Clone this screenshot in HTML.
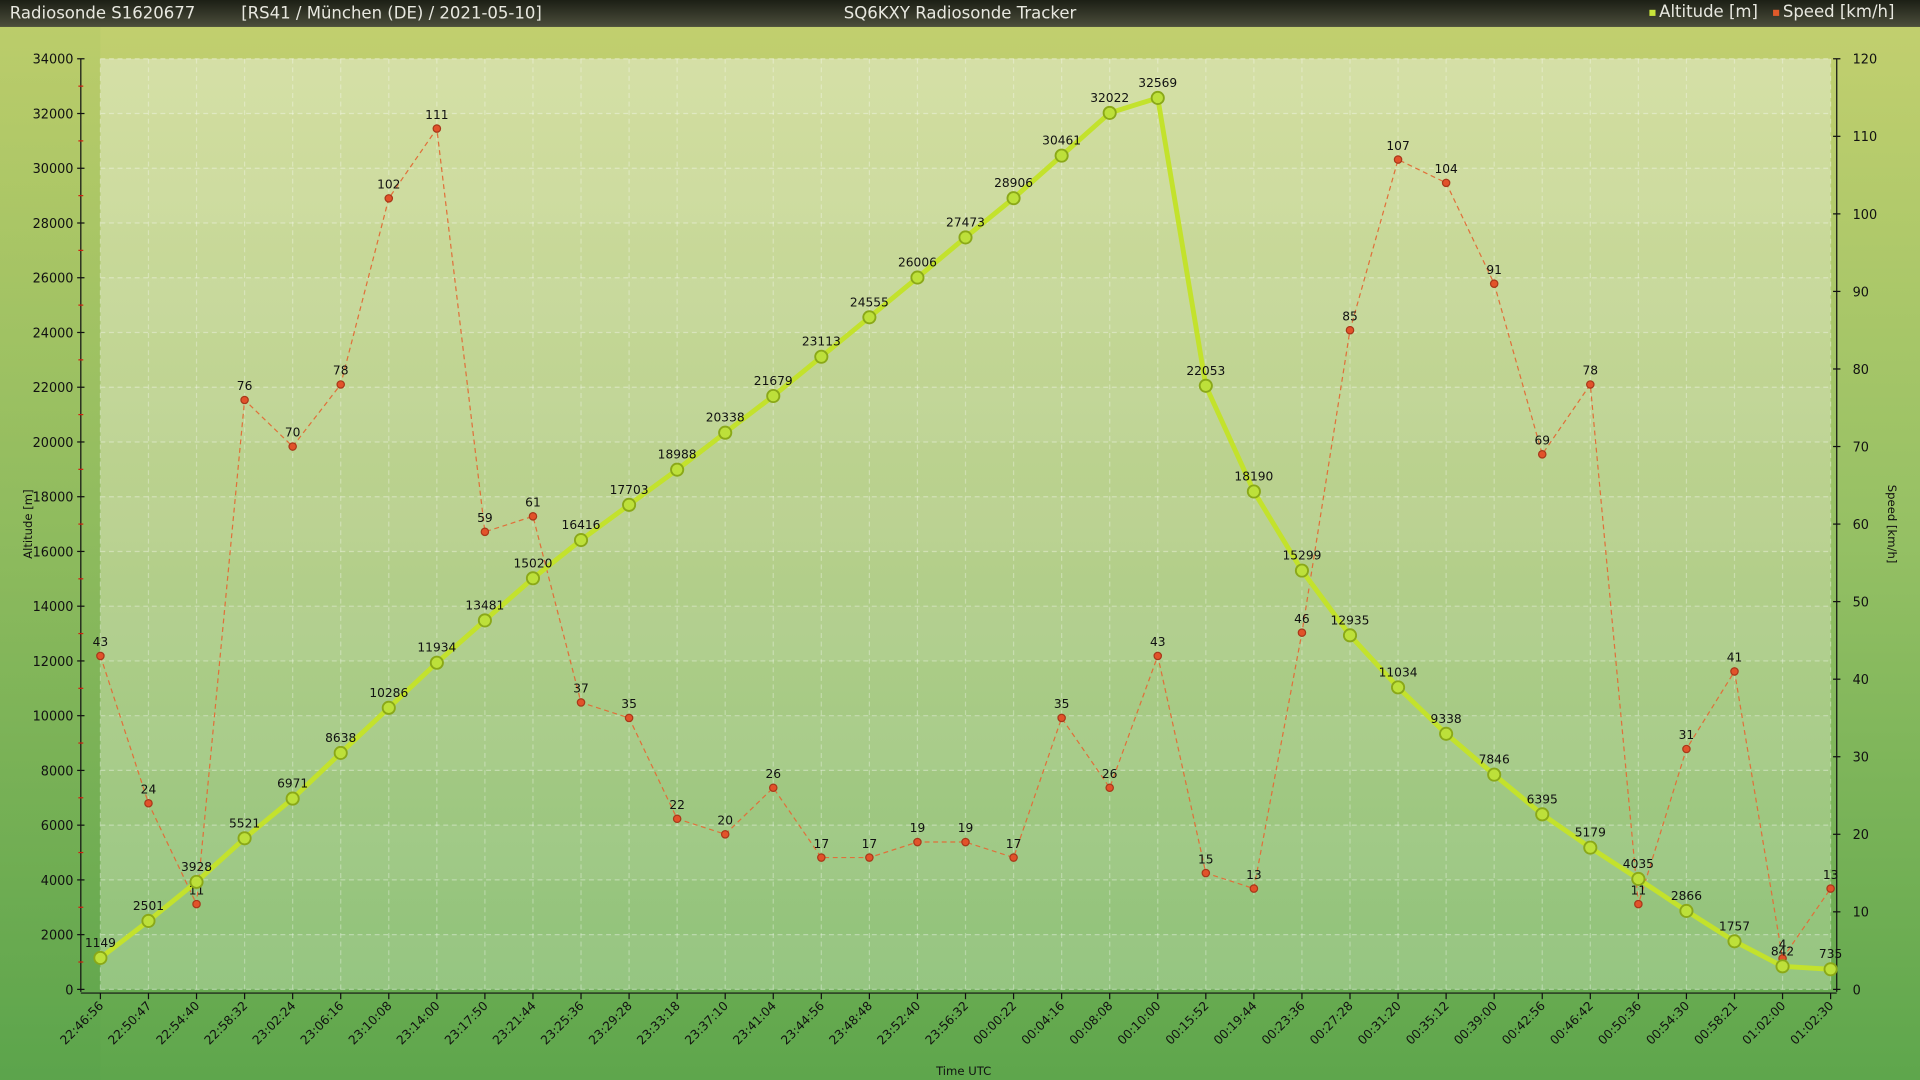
<!DOCTYPE html>
<html><head><meta charset="utf-8"><style>
html,body{margin:0;padding:0;width:1920px;height:1080px;overflow:hidden;background:#8fbf6a}
svg{display:block}
text{font-family:"DejaVu Sans","Liberation Sans",sans-serif}
</style></head><body>
<svg id="chart" width="1920" height="1080" viewBox="0 0 1568 882" preserveAspectRatio="none" xmlns="http://www.w3.org/2000/svg">
<defs>
<linearGradient id="bg" x1="0" y1="0" x2="0" y2="1"><stop offset="0" stop-color="#c4d06f"/><stop offset="0.5" stop-color="#95c064"/><stop offset="1" stop-color="#5ea64c"/></linearGradient>
<linearGradient id="side" x1="0" y1="0" x2="0" y2="1"><stop offset="0" stop-color="#b7cb68"/><stop offset="1" stop-color="#5aa34b"/></linearGradient>
<linearGradient id="plot" x1="0" y1="0" x2="0" y2="1"><stop offset="0" stop-color="#d3dea1"/><stop offset="0.5" stop-color="#b7d08c"/><stop offset="1" stop-color="#8fc27a"/></linearGradient>
<linearGradient id="tb" x1="0" y1="0" x2="0" y2="1"><stop offset="0" stop-color="#1c1f15"/><stop offset="1" stop-color="#4c4e3c"/></linearGradient>
</defs>
<rect x="0" y="0" width="1568" height="882" fill="url(#bg)"/>
<rect x="0" y="22" width="82" height="860" fill="url(#side)" opacity="0.6"/>
<rect x="82" y="48" width="1413" height="760" fill="url(#plot)"/>
<g id="grid"></g>
<rect x="0" y="0" width="1568" height="22" fill="url(#tb)"/>
<text x="8" y="15" font-size="13.5" fill="#e8e8e0">Radiosonde S1620677</text>
<text x="197" y="15" font-size="13.5" fill="#e8e8e0">[RS41 / München (DE) / 2021-05-10]</text>
<text x="784" y="15" font-size="13.5" fill="#e8e8e0" text-anchor="middle">SQ6KXY Radiosonde Tracker</text>
<rect x="1347" y="8" width="5" height="5" fill="#c8e43a"/>
<text x="1355" y="14" font-size="13.5" fill="#e8e8e0">Altitude [m]</text>
<rect x="1448" y="8" width="5" height="5" fill="#e05a2a"/>
<text x="1456" y="14" font-size="13.5" fill="#e8e8e0">Speed [km/h]</text>
<g id="axes"></g>
<g id="series"></g>
<text x="787" y="878" font-size="9.5" text-anchor="middle" fill="#111">Time UTC</text>
<text transform="translate(26,428) rotate(-90)" font-size="9.5" text-anchor="middle" fill="#111">Altitude [m]</text>
<text transform="translate(1542,428) rotate(90)" font-size="9.5" text-anchor="middle" fill="#111">Speed [km/h]</text>
</svg>
<script>
const times=["22:46:56","22:50:47","22:54:40","22:58:32","23:02:24","23:06:16","23:10:08","23:14:00","23:17:50","23:21:44","23:25:36","23:29:28","23:33:18","23:37:10","23:41:04","23:44:56","23:48:48","23:52:40","23:56:32","00:00:22","00:04:16","00:08:08","00:10:00","00:15:52","00:19:44","00:23:36","00:27:28","00:31:20","00:35:12","00:39:00","00:42:56","00:46:42","00:50:36","00:54:30","00:58:21","01:02:00","01:02:30"];
const altitude=[1149,2501,3928,5521,6971,8638,10286,11934,13481,15020,16416,17703,18988,20338,21679,23113,24555,26006,27473,28906,30461,32022,32569,22053,18190,15299,12935,11034,9338,7846,6395,5179,4035,2866,1757,842,735];
const speed=[43,24,11,76,70,78,102,111,59,61,37,35,22,20,26,17,17,19,19,17,35,26,43,15,13,46,85,107,104,91,69,78,11,31,41,4,13];
const altTicks=[0,2000,4000,6000,8000,10000,12000,14000,16000,18000,20000,22000,24000,26000,28000,30000,32000,34000];
const spdTicks=[0,10,20,30,40,50,60,70,80,90,100,110,120];
const NS="http://www.w3.org/2000/svg";
const X0=82,X1=1495,Y0=808,Y1=48,ALTMAX=34000,SPMAX=120;
const xs=i=>X0+(X1-X0)*i/(times.length-1);
const ya=v=>Y0-(Y0-Y1)*v/ALTMAX;
const ys=v=>Y0-(Y0-Y1)*v/SPMAX;
function mk(tag,attrs,parent,txt){const e=document.createElementNS(NS,tag);for(const k in attrs)e.setAttribute(k,attrs[k]);if(txt!==undefined)e.textContent=txt;parent.appendChild(e);return e;}
const grid=document.getElementById('grid'),axes=document.getElementById('axes'),series=document.getElementById('series');
altTicks.forEach((t,i)=>{if(i%2===0&&i<altTicks.length-1){const b=mk('rect',{x:X0,y:ya(t+2000),width:X1-X0,height:ya(t)-ya(t+2000),fill:'#ffffff','fill-opacity':0.06},grid);}});
altTicks.forEach(t=>{const l=mk('line',{x1:X0,x2:X1,y1:ya(t),y2:ya(t),stroke:'#ffffff','stroke-opacity':0.35,'stroke-dasharray':'4,3'},grid);});
times.forEach((t,i)=>{const l=mk('line',{x1:xs(i),x2:xs(i),y1:Y1,y2:Y0,stroke:'#ffffff','stroke-opacity':0.3,'stroke-dasharray':'4,3'},grid);});
let a=mk('line',{x1:66,x2:66,y1:Y1,y2:Y0+2,stroke:'#111'},axes);
altTicks.forEach(t=>{const tk=mk('line',{x1:63,x2:69,y1:ya(t),y2:ya(t),stroke:'#111'},axes);
const lb=mk('text',{x:60,y:ya(t)+4,'font-size':10.5,'text-anchor':'end',fill:'#111'},axes,String(t));
if(t<ALTMAX){const m=mk('line',{x1:64,x2:68,y1:ya(t+1000),y2:ya(t+1000),stroke:'#d02010'},axes);}});
a=mk('line',{x1:1500,x2:1500,y1:Y1,y2:Y0+2,stroke:'#111'},axes);
spdTicks.forEach(t=>{const tk=mk('line',{x1:1497,x2:1503,y1:ys(t),y2:ys(t),stroke:'#111'},axes);
const lb=mk('text',{x:1513,y:ys(t)+4,'font-size':10.5,fill:'#111'},axes,String(t));});
a=mk('line',{x1:66,x2:1500,y1:811,y2:811,stroke:'#111'},axes);
times.forEach((t,i)=>{const tk=mk('line',{x1:xs(i),x2:xs(i),y1:811,y2:816,stroke:'#111'},axes);
const lb=mk('text',{transform:`translate(${xs(i)+3},${822}) rotate(-45)`,'font-size':10,'text-anchor':'end',fill:'#111'},axes,t);});
let p=mk('polyline',{points:speed.map((v,i)=>xs(i)+','+ys(v)).join(' '),fill:'none',stroke:'#e0703a','stroke-width':1,'stroke-dasharray':'4,3'},series);

p=mk('polyline',{points:altitude.map((v,i)=>xs(i)+','+ya(v)).join(' '),fill:'none',stroke:'#c3e22c','stroke-width':4,'stroke-linejoin':'round'},series);

speed.forEach((v,i)=>{const c=mk('circle',{cx:xs(i),cy:ys(v),r:3,fill:'#e2522a',stroke:'#a8381a','stroke-width':1},series);
const lb=mk('text',{x:xs(i),y:ys(v)-8,'font-size':10,'text-anchor':'middle',fill:'#111'},series,String(v));});
altitude.forEach((v,i)=>{const c=mk('circle',{cx:xs(i),cy:ya(v),r:5,fill:'#bde03a',stroke:'#8aa818','stroke-width':1.5},series);
const lb=mk('text',{x:xs(i),y:ya(v)-9,'font-size':10,'text-anchor':'middle',fill:'#111'},series,String(v));});
</script>
</body></html>
